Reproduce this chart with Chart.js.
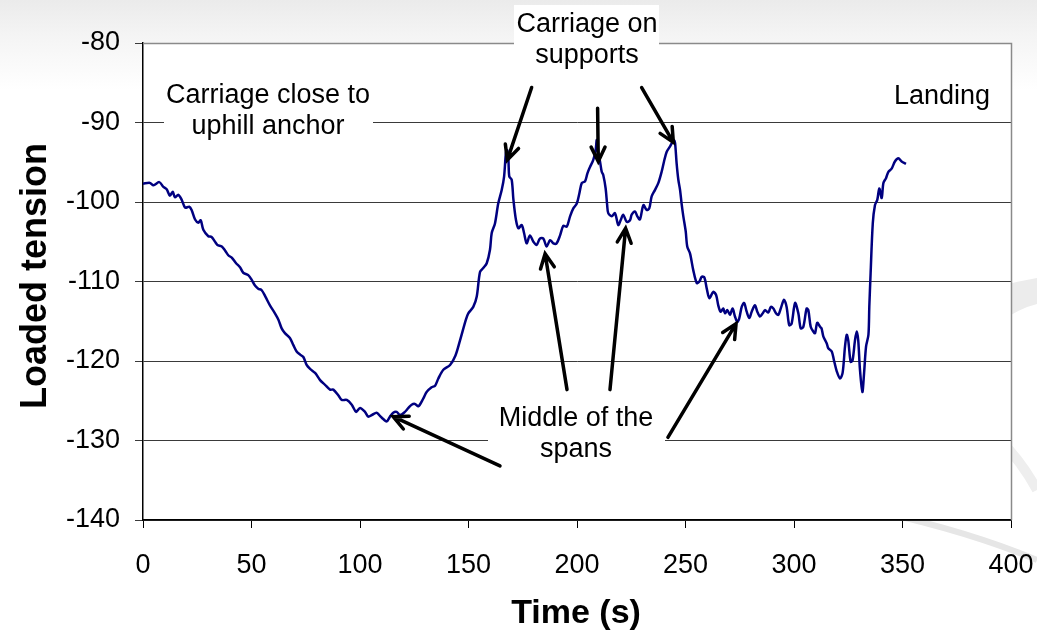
<!DOCTYPE html>
<html>
<head>
<meta charset="utf-8">
<title>Loaded tension</title>
<script src="https://cdn.jsdelivr.net/npm/chart.js@4"></script>
<style>
  html, body { margin: 0; padding: 0; }
  body {
    width: 1037px; height: 632px; overflow: hidden;
    background: linear-gradient(to bottom, #ebebeb 0px, #f4f4f4 35px, #ffffff 90px);
  }
  canvas { display: block; }
</style>
</head>
<body>
<canvas id="tensionChart" width="1037" height="632"></canvas>
<script>
// 時間 (s)
const timeSec = [
  0, 3.2, 4.8, 7.5, 9.4, 10.9, 12.4, 13.7, 14.7, 16.3, 17.8, 19.4, 21.3, 22.4, 24.0, 25.5, 26.6, 27.8,
  30.1, 31.6, 33.2, 34.3, 36.3, 37.8, 39.3, 40.9, 42.9, 44.7, 46.2, 48.5, 50.1, 51.6, 53.1, 54.7,
  56.4, 58.5, 60.8, 62.4, 63.9, 65.4, 67.7, 69.3, 70.8, 72.4, 73.9, 75.4, 77.0, 79.3, 81.6, 83.9,
  86.2, 87.7, 90.0, 91.6, 93.9, 96.2, 98.2, 100.0, 102.3, 103.8, 105.4, 107.7, 109.2, 110.7, 112.3,
  113.8, 115.3, 116.9, 118.4, 120.7, 122.3, 123.8, 125.3, 126.9, 129.2, 130.7, 133.0, 134.6, 136.1,
  138.4, 141.5, 144.0, 146.0, 148.8, 149.9, 152.2, 153.8, 155.3, 156.8, 158.4, 159.9, 160.7, 162.2,
  163.7, 165.3, 166.4, 167.3, 167.9, 168.4, 168.8, 169.9, 170.7, 171.9, 173.0, 174.5, 175.6, 176.8,
  178.3, 179.9, 181.4, 182.9, 184.5, 186.0, 187.6, 189.1, 190.6, 192.2, 193.7, 195.3, 196.8, 198.3,
  199.9, 201.1, 202.2, 203.7, 204.8, 206.0, 207.5, 208.6, 209.1, 209.8, 210.6, 211.4, 212.1, 213.2,
  213.9, 214.4, 216.0, 217.5, 219.0, 220.1, 221.3, 222.9, 224.4, 225.2, 226.7, 227.8, 229.0, 230.6,
  232.1, 233.3, 234.4, 235.9, 237.5, 239.0, 240.1, 241.3, 242.9, 244.1, 244.7, 245.2, 245.9, 246.7,
  247.5, 248.2, 249.0, 250.1, 250.8, 252.1, 253.6, 255.2, 256.4, 257.5, 258.7, 259.8, 261.0, 262.8,
  264.1, 265.1, 266.2, 267.4, 268.2, 269.3, 270.5, 271.7, 272.8, 273.9, 274.8, 275.9, 277.0, 278.2,
  279.4, 280.5, 282.0, 283.1, 284.3, 285.6, 286.6, 288.2, 289.3, 290.5, 291.7, 292.8, 293.9, 295.4,
  296.6, 297.8, 298.9, 300.5, 302.0, 303.1, 304.3, 305.8, 306.6, 307.7, 308.9, 309.7, 310.7, 312.0,
  312.7, 313.5, 315.1, 315.8, 317.4, 318.4, 319.7, 321.2, 322.4, 323.5, 324.3, 325.0, 326.1, 327.0,
  328.1, 328.9, 329.6, 330.4, 331.5, 332.3, 333.2, 334.3, 334.7, 335.3, 336.3, 337.3, 338.4, 339.3,
  340.4, 341.2, 342.4, 343.5, 345.0, 346.5, 348.1, 349.6, 351.6
];

// 張力
const loadedTension = [
  -97.7, -97.6, -97.9, -97.5, -98.1, -98.4, -99.2, -98.7, -99.4, -99.1, -99.7, -100.7, -100.6, -101.0, -102.2, -102.6, -102.3, -103.5,
  -104.3, -104.4, -105.0, -105.4, -105.6, -106.1, -106.7, -107.0, -107.7, -108.2, -108.9, -109.2, -109.8, -110.5, -110.9, -111.1,
  -111.9, -113.0, -114.0, -114.8, -115.9, -116.5, -117.1, -118.0, -118.8, -119.2, -119.5, -120.5, -121.0, -121.5, -122.4, -123.0,
  -123.6, -123.6, -124.3, -124.9, -124.9, -125.5, -126.4, -125.9, -126.4, -127.0, -126.8, -126.5, -126.9, -127.3, -127.6,
  -127.0, -126.5, -126.4, -126.8, -126.4, -125.9, -125.5, -125.4, -125.7, -124.7, -123.9, -123.3, -123.1, -122.2,
  -121.1, -120.5, -119.3, -117.5, -114.8, -114.0, -113.2, -111.9, -108.8, -108.3, -107.7, -106.0, -103.9, -102.7,
  -100.2, -98.5, -96.8, -93.7, -93.5, -94.7, -96.8, -97.2, -99.7, -102.3, -103.3, -102.9, -103.9, -105.2,
  -104.2, -105.0, -105.4, -104.6, -104.6, -105.6, -104.8, -105.2, -105.2, -104.2, -103.0, -103.1, -101.8, -100.8,
  -100.2, -98.9, -97.6, -97.4, -96.4, -95.6, -94.7, -93.5, -92.2, -93.9, -94.9, -96.2, -96.6, -98.3,
  -100.4, -101.4, -101.8, -101.4, -102.9, -102.3, -101.6, -102.5, -102.3, -101.6, -101.2, -101.8, -102.2, -100.4,
  -101.0, -100.8, -99.3, -98.5, -97.6, -96.2, -94.9, -93.7, -93.0, -92.4, -92.2, -92.6, -95.1, -97.2,
  -98.5, -100.2, -101.8, -103.7, -105.6, -106.5, -108.6, -110.2, -110.0, -109.4, -109.5, -110.9, -112.1, -111.3,
  -111.7, -113.0, -113.8, -113.4, -114.0, -113.6, -114.2, -113.4, -114.4, -115.1, -114.6, -113.2, -112.7, -113.8,
  -114.6, -113.8, -113.0, -113.8, -114.4, -114.0, -113.6, -113.9, -113.2, -113.4, -114.0, -114.2, -113.4, -112.3,
  -113.2, -115.5, -115.3, -112.7, -114.0, -115.9, -115.7, -113.4, -113.6, -115.7, -116.3, -116.5, -115.2, -115.7,
  -115.9, -116.9, -117.8, -118.4, -118.8, -119.9, -121.3, -122.2, -121.5, -118.2, -116.7, -117.4, -120.1, -119.9,
  -117.4, -116.3, -117.4, -121.1, -123.9, -121.5, -118.2, -116.7, -113.2, -109.0, -102.7, -100.4, -99.7, -98.3,
  -99.5, -97.6, -97.0, -96.2, -95.8, -94.9, -94.5, -94.9, -95.2
];

// 軸の目盛り
const xTicks = [0, 50, 100, 150, 200, 250, 300, 350, 400];
const yTicks = [-140, -130, -120, -110, -100, -90, -80];

// 注記の矢印 (データ座標: 始点t, 始点v, 先端t, 先端v)
const arrowFrom = [[179.1, -85.6], [209.5, -88.2], [229.8, -85.6], [164.5, -133.2], [195.4, -123.6], [215.2, -123.6], [241.9, -129.6]];
const arrowTo   = [[167.9, -94.7], [209.8, -94.9], [244.4, -92.5], [115.3, -127.0], [185.3, -106.5], [222.4, -103.3], [273.3, -115.3]];

const FONT = '"Liberation Sans", Arial, sans-serif';

// 注記テキスト (ピクセル配置)
const notes = [
  { lines: ['Carriage close to', 'uphill anchor'], cx: 268, base: 103, box: [164, 76, 373, 142], align: 'center' },
  { lines: ['Carriage on', 'supports'], cx: 587, base: 32, box: [514, 5, 659, 70], align: 'center' },
  { lines: ['Middle of the', 'spans'], cx: 576, base: 426, box: [488, 398, 665, 466], align: 'center' },
  { lines: ['Landing'], cx: 990, base: 104, box: null, align: 'right' }
];

// 背景（スライドの装飾とプロット領域）
const backgroundPlugin = {
    id: 'slideBackground',
    beforeDraw(chart) {
        const ctx = chart.ctx;
        const area = chart.chartArea;
        ctx.save();
        ctx.fillStyle = '#ececec';
        ctx.beginPath();
        ctx.moveTo(960, 300);
        ctx.quadraticCurveTo(1000, 284, 1037, 278);
        ctx.lineTo(1037, 304);
        ctx.quadraticCurveTo(1020, 308, 1000, 322);
        ctx.closePath();
        ctx.fill();

        ctx.strokeStyle = '#eeeeee';
        ctx.lineWidth = 10;
        ctx.beginPath();
        ctx.moveTo(1000, 440);
        ctx.quadraticCurveTo(1022, 462, 1037, 490);
        ctx.stroke();

        ctx.strokeStyle = '#e6e6e6';
        ctx.lineWidth = 6;
        ctx.beginPath();
        ctx.moveTo(880, 512);
        ctx.quadraticCurveTo(970, 532, 1037, 560);
        ctx.stroke();

        ctx.fillStyle = '#ffffff';
        ctx.fillRect(area.left, area.top, area.right - area.left, area.bottom - area.top);
        ctx.restore();
    }
};

// 枠線・軸タイトル・注記
const annotationPlugin = {
    id: 'notes',
    afterDraw(chart) {
        const ctx = chart.ctx;
        const area = chart.chartArea;
        const xs = chart.scales.x;
        const ys = chart.scales.y;
        ctx.save();

        // プロット枠（上・右）
        ctx.strokeStyle = '#8a8a8a';
        ctx.lineWidth = 1.5;
        ctx.beginPath();
        ctx.moveTo(area.left, area.top + 0.5);
        ctx.lineTo(area.right + 0.5, area.top + 0.5);
        ctx.lineTo(area.right + 0.5, area.bottom);
        ctx.stroke();

        // 軸タイトル
        ctx.fillStyle = '#000';
        ctx.font = 'bold 34px ' + FONT;
        ctx.textAlign = 'center';
        ctx.textBaseline = 'alphabetic';
        ctx.fillText('Time (s)', 576, 623);
        ctx.save();
        ctx.translate(46, 276);
        ctx.rotate(-Math.PI / 2);
        ctx.font = 'bold 36px ' + FONT;
        ctx.fillText('Loaded tension', 0, 0);
        ctx.restore();

        // 注記
        ctx.font = '27px ' + FONT;
        notes.forEach(note => {
            if (note.box) {
                ctx.fillStyle = '#ffffff';
                ctx.fillRect(note.box[0], note.box[1], note.box[2] - note.box[0], note.box[3] - note.box[1]);
            }
            ctx.fillStyle = '#000';
            ctx.textAlign = note.align;
            note.lines.forEach((line, i) => {
                ctx.fillText(line, note.cx, note.base + i * 31);
            });
        });

        // 矢印
        ctx.strokeStyle = '#000';
        ctx.lineWidth = 3.5;
        ctx.lineCap = 'round';
        arrowFrom.forEach((from, i) => {
            const x1 = xs.getPixelForValue(from[0]);
            const y1 = ys.getPixelForValue(from[1]);
            const x2 = xs.getPixelForValue(arrowTo[i][0]);
            const y2 = ys.getPixelForValue(arrowTo[i][1]);
            const ang = Math.atan2(y2 - y1, x2 - x1);
            const head = 16;
            ctx.beginPath();
            ctx.moveTo(x1, y1);
            ctx.lineTo(x2, y2);
            ctx.moveTo(x2 - head * Math.cos(ang - 0.45), y2 - head * Math.sin(ang - 0.45));
            ctx.lineTo(x2, y2);
            ctx.lineTo(x2 - head * Math.cos(ang + 0.45), y2 - head * Math.sin(ang + 0.45));
            ctx.stroke();
        });

        ctx.restore();
    }
};

document.addEventListener('DOMContentLoaded', function() {
    'use strict';
    const ctx = document.getElementById('tensionChart').getContext('2d');
    const points = timeSec.map((t, i) => ({ x: t, y: loadedTension[i] }));

    new Chart(ctx, {
        type: 'line',
        data: {
            datasets: [{
                label: 'Loaded tension',
                data: points,
                borderColor: '#000080',
                borderWidth: 2.5,
                pointRadius: 0,
                tension: 0.3,
                fill: false
            }]
        },
        options: {
            responsive: false,
            animation: false,
            devicePixelRatio: 1,
            layout: { padding: { top: 43, right: 26, left: 0, bottom: 0 } },
            plugins: {
                legend: { display: false },
                tooltip: { enabled: false }
            },
            scales: {
                x: {
                    type: 'linear',
                    min: xTicks[0],
                    max: xTicks[xTicks.length - 1],
                    afterBuildTicks: scale => { scale.ticks = xTicks.map(v => ({ value: v })); },
                    afterFit: scale => {
                        scale.height = 112;
                        scale.paddingLeft = 0;
                        scale.paddingRight = 0;
                    },
                    ticks: { color: '#000', font: { family: FONT, size: 27 }, padding: 21, maxRotation: 0 },
                    grid: { drawOnChartArea: false, tickLength: 8, color: '#000' },
                    border: { color: '#000', width: 1.5 }
                },
                y: {
                    min: yTicks[0],
                    max: yTicks[yTicks.length - 1],
                    afterBuildTicks: scale => { scale.ticks = yTicks.map(v => ({ value: v })); },
                    afterFit: scale => {
                        scale.width = 143;
                        scale.paddingTop = 0;
                        scale.paddingBottom = 0;
                    },
                    ticks: { color: '#000', font: { family: FONT, size: 27 }, padding: 15 },
                    grid: { color: '#3a3a3a', tickLength: 8, lineWidth: 1 },
                    border: { color: '#000', width: 1.5 }
                }
            }
        },
        plugins: [backgroundPlugin, annotationPlugin]
    });
});
</script>
</body>
</html>
